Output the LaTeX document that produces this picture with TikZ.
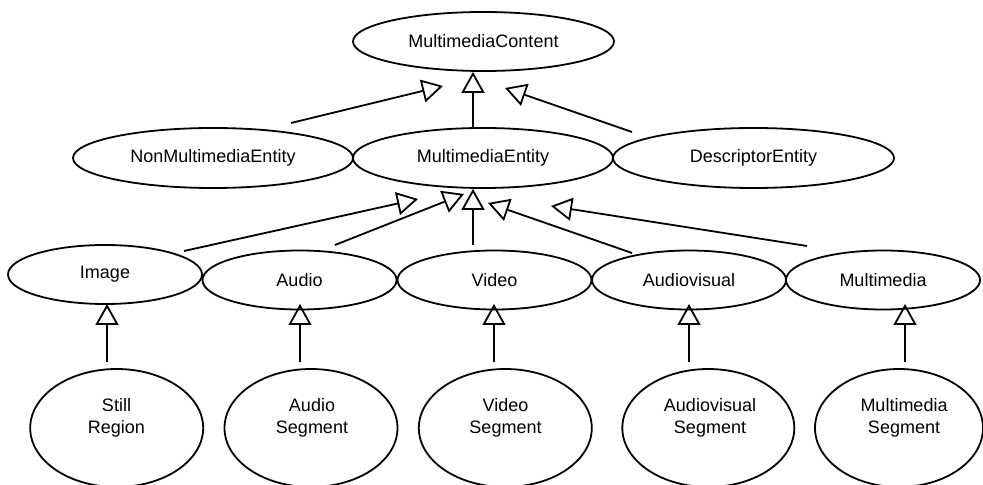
\documentclass[tikz,border=0pt]{standalone}
\usepackage{fontspec}
\setmainfont{Liberation Sans}
\usetikzlibrary{shapes.geometric,arrows.meta}
\begin{document}
\begin{tikzpicture}[x=0.5pt,y=-0.5pt,line width=0.9pt,
	ent/.style={ellipse,draw,inner sep=0pt,font=\fontsize{9}{11}\selectfont},
	gen/.style={-{Triangle[open,length=10.5pt,width=11.5pt]}}]
	\useasboundingbox (0,0) rectangle (983,485);
	\node[ent,minimum width=130.5pt,minimum height=29.5pt] (mc) at (483.5,41.5) {MultimediaContent};
	\node[ent,minimum width=140pt,minimum height=30pt] (nme) at (213,158) {NonMultimediaEntity};
	\node[ent,minimum width=130pt,minimum height=30pt] (me) at (483,158) {MultimediaEntity};
	\node[ent,minimum width=140.5pt,minimum height=30pt] (de) at (753.5,158) {DescriptorEntity};
	\foreach \n/\x/\y/\t in {image/105/274.5/Image,audio/299.5/280/Audio,video/494.5/280/Video,audiovisual/689/280/Audiovisual,multimedia/883/280/Multimedia}
		\node[ent,minimum width=97pt,minimum height=29.5pt] (\n) at (\x,\y) {\t};
	\foreach \n/\x/\w/\tx/\t in {stillreg/116.7/86.5/116.5/{Still\\Region},audioseg/311/86.5/312/{Audio\\Segment},videoseg/505.3/86.5/505.5/{Video\\Segment},avseg/708.3/86/710/{Audiovisual\\Segment},mmseg/899/84/904/{Multimedia\\Segment}}{
		\node[ent,minimum width=\w pt,minimum height=59pt] (\n) at (\x,428) {};
		\node[align=center,inner sep=0pt,font=\fontsize{9}{11}\selectfont] (\n-txt) at (\tx,418) {\t};
	}
	\foreach \c/\p/\x in {stillreg/image/107,audioseg/audio/300,videoseg/video/494,avseg/audiovisual/689,mmseg/multimedia/905}
		\draw[gen] (\c.north -| \x,0) ++(0,-6) -- (\x,304);
	\draw[gen] (video.north -| 473,0) ++(0,-5) -- (me.south -| 473,0);
	\draw[gen] (me.north -| 473,0) -- (mc.south -| 473,0);
	\draw[gen] (291,123) -- (443,86);
	\draw[gen] (632,132) -- (505,88);
	\draw[gen] (184,251) -- (418,199);
	\draw[gen] (335,245) -- (464,194);
	\draw[gen] (632,253) -- (488,203);
	\draw[gen] (807,246) -- (551,206);
\end{tikzpicture}
\end{document}
